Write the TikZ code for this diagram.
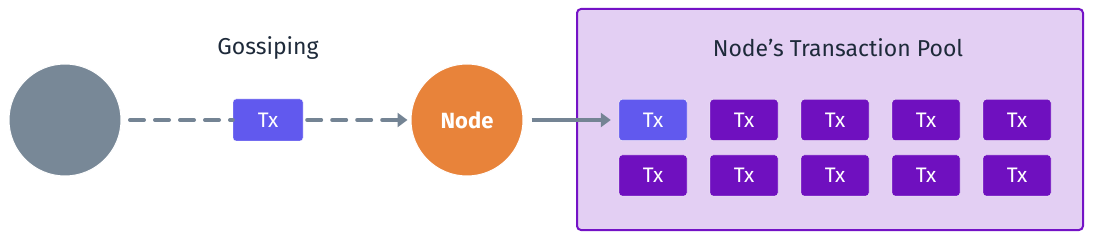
\documentclass[tikz,border=0pt]{standalone}
\usepackage{fontspec}
\setmainfont{Fira Sans}
\usetikzlibrary{arrows.meta}
\definecolor{txblue}{HTML}{6159EE}
\definecolor{txpurple}{HTML}{6F10BF}
\definecolor{graycirc}{HTML}{788897}
\definecolor{linegray}{HTML}{748494}
\definecolor{orangec}{HTML}{E8833A}
\definecolor{poolfill}{HTML}{E3CFF3}
\definecolor{pooledge}{HTML}{7412C6}
\definecolor{darktext}{HTML}{1E2A3A}
\tikzset{
  txbox/.style={rectangle, rounded corners=3pt, minimum width=68pt, minimum height=41pt, inner sep=0pt, text=white, font=\fontsize{21}{24}\selectfont, draw=white, line width=0.4pt},
  bluetx/.style={txbox, fill=txblue},
  purpletx/.style={txbox, fill=txpurple},
  bigcirc/.style={circle, minimum size=112pt, inner sep=0pt, draw=white, line width=1pt},
  label/.style={text=darktext, font=\fontsize{23}{26}\selectfont},
  gossip/.style={draw=linegray, line width=4pt, line cap=round, dash pattern=on 14pt off 11pt},
}
\begin{document}
\begin{tikzpicture}[x=1pt,y=-1pt]
\useasboundingbox (0,0) rectangle (1100,240);
\fill[white] (0,0) rectangle (1100,240);
% pool
\draw[fill=poolfill, draw=pooledge, line width=2pt, rounded corners=4pt] (577,9) rectangle (1083,230);
\node[label] (pooltitle) at (838,48) {Node’s Transaction Pool};
\node[label] (gossiplabel) at (268,48) {Gossiping};
% circles
\node[bigcirc, fill=orangec, text=white, font=\fontsize{22}{26}\selectfont\bfseries] (node) at (467,120) {Node};
\node[bigcirc, fill=graycirc] (src) at (65,120) {};
% gossip tx
\node[bluetx, minimum width=70pt, minimum height=42pt] (gtx) at (268,120) {Tx};
% pool tx
\node[bluetx] (p11) at (653,120) {Tx};
\foreach \i/\x in {2/744,3/835,4/926,5/1017}{
  \node[purpletx] (p1\i) at (\x,120) {Tx};
}
\foreach \i/\x in {1/653,2/744,3/835,4/926,5/1017}{
  \node[purpletx] (p2\i) at (\x,175.5) {Tx};
}
% connectors
\coordinate (gs) at (130,120);
\draw[gossip] (gs) -- (gtx.west);
\draw[gossip] ([xshift=4pt]gtx.east) -- ([xshift=-14pt]node.west);
\draw[draw=linegray, line width=4pt, -{Triangle[length=10pt,width=14pt]}] ([xshift=-14pt]node.west) -- ([xshift=-3pt]node.west);
\draw[draw=linegray, line width=3.5pt, -{Triangle[length=10pt,width=14pt]}] ([xshift=8pt]node.east) -- ([xshift=-8pt]p11.west);
\end{tikzpicture}
\end{document}
